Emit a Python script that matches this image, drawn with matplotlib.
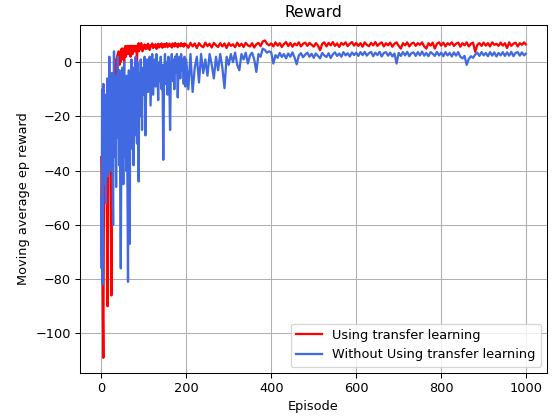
import numpy as np
import matplotlib
matplotlib.use("Agg")
import matplotlib.pyplot as plt

# episodes: dense at the start, sparser later
episodes = np.concatenate([
    np.arange(0, 100, 1),
    np.arange(100, 200, 2),
    np.arange(200, 400, 5),
    np.arange(400, 1000, 5),
    [999],
])

# Using transfer learning (red)
reward_tl = [
    # 0-99
    -35, -52, -44, -70, -95, -109, -62, -40, -28, -45,
    -22, -35, -18, -48, -72, -90, -55, -30, -14, -26,
    -12, -38, -20, -62, -86, -45, -17, -8, -20, -5,
    -12, -3, -8, -1, -6, 1, -4, 2, -2, 3,
    0, 4, 1, -1, 3, 0, 4, 2, 5, 1,
    3, 5, 2, 4, 0, 5, 3, 6, 2, 4,
    5, 3, 6, 4, 5, 3, 6, 4, 5, 2,
    6, 4, 5, 6, 3, 5, 6, 4, 6, 5,
    4, 6, 5, 6, -1, 5, 6, 5, 7, 4,
    6, 5, 6, 5, 7, 5, 6, 4, 6, 5,
    # 100-198 step 2
    5.5, 6.5, 4.8, 6.2, 5.0, 6.8, 5.6, 4.5, 6.3, 5.9,
    6.9, 5.2, 6.4, 5.7, 6.6, 4.9, 6.1, 6.8, 5.4, 6.5,
    5.8, 6.9, 5.3, 6.2, 6.7, 5.6, 6.4, 7.0, 5.5, 6.3,
    6.8, 5.9, 6.5, 5.4, 6.9, 6.2, 5.8, 7.1, 6.0, 6.6,
    5.5, 6.8, 6.3, 5.9, 7.0, 6.1, 6.6, 5.7, 6.9, 6.3,
    # 200-395 step 5
    6.5, 5.3, 7.1, 5.8, 6.9, 5.2, 7.0, 6.0, 5.5, 7.2,
    5.9, 6.8, 5.4, 7.1, 6.2, 5.6, 7.0, 5.8, 6.9, 5.2,
    7.0, 6.0, 6.6, 5.5, 7.2, 5.9, 6.8, 5.6, 7.1, 6.2,
    5.8, 7.0, 5.4, 6.6, 7.1, 5.9, 7.6, 8.0, 6.8, 6.2,
    # 400-995 step 5
    6.9, 5.8, 7.3, 6.1, 7.0, 5.6, 6.7, 7.4, 5.9, 7.1,
    5.7, 6.9, 6.2, 7.3, 5.8, 6.8, 7.2, 6.0, 7.1, 6.4,
    5.7, 7.0, 6.1, 4.4, 6.8, 7.3, 5.8, 7.1, 6.2, 7.4,
    6.0, 6.9, 5.6, 7.1, 6.4, 7.3, 5.9, 6.8, 7.4, 6.1,
    7.1, 6.0, 7.0, 5.7, 7.3, 6.4, 5.9, 7.1, 6.2, 7.4,
    6.0, 6.8, 7.3, 5.8, 7.0, 6.2, 7.2, 5.7, 6.8, 7.3,
    6.0, 5.0, 7.0, 6.2, 7.3, 5.8, 6.8, 7.2, 6.0, 7.0,
    6.4, 7.3, 5.8, 5.0, 7.0, 6.1, 7.2, 5.0, 6.8, 7.3,
    6.1, 7.2, 5.8, 7.0, 6.4, 7.3, 6.0, 6.8, 7.2, 5.7,
    7.0, 6.2, 7.3, 5.8, 6.8, 7.2, 3.8, 6.4, 7.0, 6.0,
    7.2, 6.1, 7.0, 5.8, 7.3, 6.4, 6.8, 6.0, 7.2, 6.1,
    7.0, 5.2, 7.3, 6.0, 6.8, 7.2, 5.8, 7.0, 6.4, 7.3,
    # 999
    6.6,
]

# Without using transfer learning (blue)
reward_no_tl = [
    # 0-99
    -50, -76, -10, -82, -35, -8, -40, -20, -45, -12,
    -30, -52, -15, -38, -6, -28, -42, -7, -25, 2,
    -33, -18, -40, -10, -30, -4, -22, -45, -60, -15,
    4, -20, -8, -35, -12, -46, -5, -28, -14, 2,
    -25, -10, -38, -3, -30, -55, -76, -40, -8, -22,
    -2, -30, -45, -12, 0, -25, -35, -8, -18, -40,
    -5, -30, -55, -81, -20, -3, -35, -67, -25, -10,
    -28, 1, -15, -32, -6, -20, -38, -2, -14, -27,
    -8, 2, -18, -5, -30, -12, 0, -22, -44, -15,
    -4, -20, -9, 1, -16, -6, -25, -3, -12, -2,
    # 100-198 step 2
    -8, 2, -27, -5, 1, -11, -3, 2, -16, -6,
    3, -12, -2, 1, -9, 3, -4, -14, 0, -7,
    2, -10, -1, -36, -4, 3, -8, 0, -12, 2,
    -5, -25, -2, 3, -7, 1, -10, 2, -4, 3,
    -13, -1, 2, -6, 3, -3, 1, -8, 2, -9,
    # 200-395 step 5
    1, -10, 3, -11, -2, 2, -7.5, 3, -4, 1,
    -5, 3, -1, -6, 2, -3, 3, -2, -9.6, 2,
    -1, 3, 0, 3.5, -1, -3, 3, 1, 3.5, -0.5,
    2.5, 3.5, 1, -3.6, 3, 2, 5, 4.5, 3.5, 4,
    # 400-995 step 5
    3.6, -0.5, 2.6, 1.6, 3.4, 1.9, 3.0, 1.4, 3.2, 2.0,
    3.6, 1.7, -0.8, 2.5, 3.3, 1.8, 2.8, 3.5, 2.0, 3.1,
    1.6, 3.2, 2.3, 1.4, 3.4, 2.5, 1.9, 3.3, 1.5, 2.9,
    3.6, 2.3, 3.2, 2.0, 3.7, 2.5, 3.3, 2.1, 3.6, 2.6,
    3.5, 2.3, 3.7, 2.6, 3.8, 2.4, 3.3, 3.8, 2.2, 3.5,
    2.6, 3.8, 2.1, 3.4, 3.7, 2.4, 3.5, 2.1, 3.2, -0.5,
    3.4, 2.3, 3.7, 2.5, 3.8, 2.2, 3.3, 3.6, 2.3, 3.7,
    2.5, 3.9, 2.4, 3.4, 2.2, 3.7, 3.1, 2.3, 3.8, 2.5,
    3.5, 2.2, 3.7, 2.5, 3.4, 2.1, 3.6, 2.4, 3.7, 2.0,
    1.4, 2.3, -1.0, 1.2, 2.2, 1.6, 2.8, 3.5, 2.3, 3.7,
    2.5, 3.4, 2.2, 3.7, 2.4, 3.6, 2.1, 3.4, 2.5, 3.7,
    2.3, 3.6, 2.4, 3.8, 2.2, 3.4, 3.7, 2.4, 3.6, 2.5,
    # 999
    3.1,
]

assert len(episodes) == len(reward_tl) == len(reward_no_tl)

DPI = 93
fig = plt.figure(figsize=(556 / DPI, 419 / DPI), dpi=DPI)
ax = fig.add_subplot(111)
fig.subplots_adjust(left=80 / 556, right=547 / 556, top=1 - 25 / 419, bottom=1 - 373 / 419)

ax.plot(episodes, reward_tl, color='red', linewidth=1.75, label='Using transfer learning')
ax.plot(episodes, reward_no_tl, color='royalblue', linewidth=1.75,
        label='Without Using transfer learning')

ax.set_xlim(-50, 1049)
ax.set_ylim(-114.6, 13.7)
ax.set_title("Reward")
ax.set_xlabel("Episode")
ax.set_ylabel("Moving average ep reward")
ax.grid(True)
ax.legend(loc='lower right')

fig.savefig("out.png", dpi=DPI)
